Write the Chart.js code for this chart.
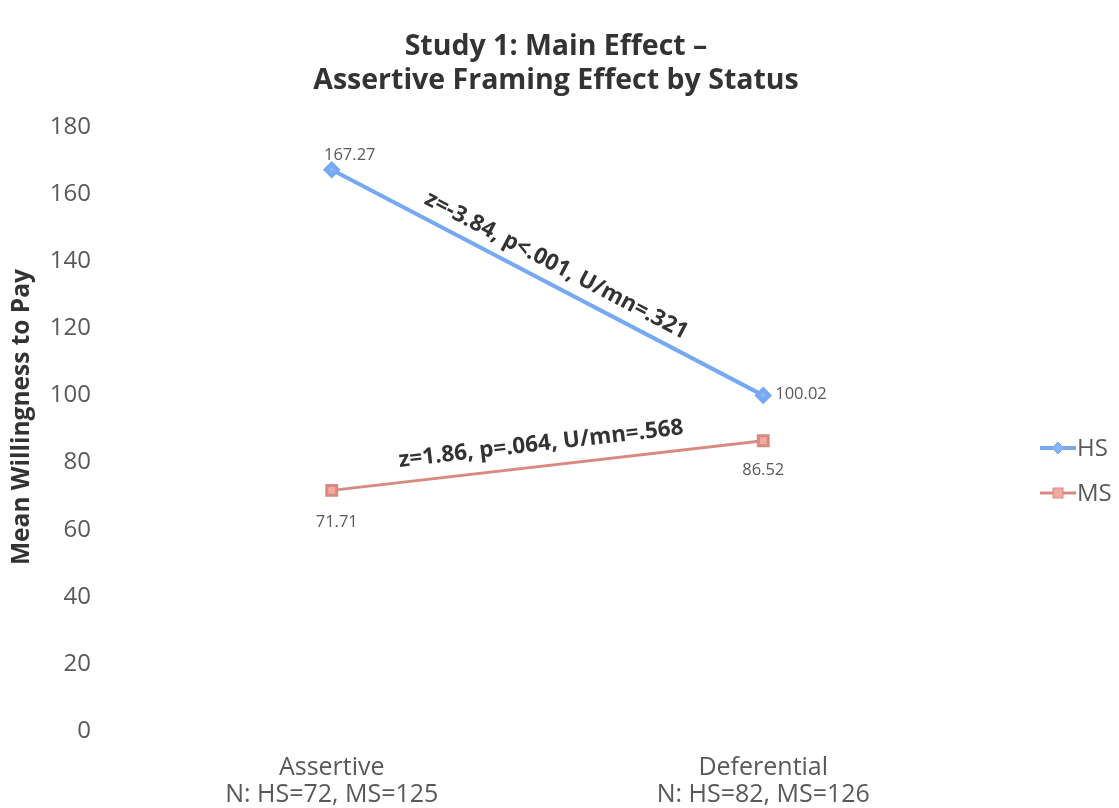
<!DOCTYPE html>
<html>
<head>
<meta charset="utf-8">
<script src="https://cdn.jsdelivr.net/npm/chart.js@4.4.0/dist/chart.umd.min.js"></script>
<style>
  html, body { margin: 0; padding: 0; background: #fff; }
  #wrap { width: 1119px; height: 808px; }
</style>
</head>
<body>
<div id="wrap"><canvas id="wtpChart" width="1119" height="808"></canvas></div>
<script>
// Data
const conditions = [
    ['Assertive', 'N: HS=72, MS=125'],
    ['Deferential', 'N: HS=82, MS=126']
];
const hsValues = [167.27, 100.02];
const msValues = [71.71, 86.52];
const seriesNames = ['HS', 'MS'];
const statNotes = ['z=-3.84, p<.001, U/mn=.321', 'z=1.86, p=.064, U/mn=.568'];
const titleLines = ['Study 1: Main Effect \u2013', 'Assertive Framing Effect by Status'];
const yAxisTitle = 'Mean Willingness to Pay';
const yTicks = [0, 20, 40, 60, 80, 100, 120, 140, 160, 180];

const FONT = "'Open Sans', 'Liberation Sans', sans-serif";
const TEXT_GREY = '#595959';
const HS_LINE = '#76a8f4';
const MS_LINE = '#d98a80';
const MS_FILL = '#f2aaa0';

// value labels next to each point (dx, dy from the point, alignment)
const labelPlacement = [
    [{ dx: 18, dy: -14, align: 'center' }, { dx: 12, dy: -1, align: 'left' }],
    [{ dx: 5, dy: 32, align: 'center' }, { dx: 0, dy: 30, align: 'center' }]
];

// title + y axis title drawn by hand so they sit where the original has them
const pageTitles = {
    id: 'pageTitles',
    afterDraw(chart) {
        const ctx = chart.ctx;
        ctx.save();
        ctx.font = 'bold 28.5px ' + FONT;
        ctx.fillStyle = '#333';
        ctx.textAlign = 'center';
        ctx.textBaseline = 'middle';
        ctx.fillText(titleLines[0], 556, 47);
        ctx.fillText(titleLines[1], 556, 81);

        ctx.font = 'bold 24.5px ' + FONT;
        ctx.translate(22, 417);
        ctx.rotate(-Math.PI / 2);
        ctx.fillText(yAxisTitle, 0, 0);
        ctx.restore();
    }
};

const pointLabels = {
    id: 'pointLabels',
    afterDatasetsDraw(chart) {
        const ctx = chart.ctx;
        ctx.save();
        ctx.font = '16.5px ' + FONT;
        ctx.fillStyle = TEXT_GREY;
        ctx.textBaseline = 'middle';
        chart.data.datasets.forEach((ds, i) => {
            const meta = chart.getDatasetMeta(i);
            meta.data.forEach((pt, j) => {
                const p = labelPlacement[i][j];
                ctx.textAlign = p.align;
                ctx.fillText(ds.data[j].toFixed(2), pt.x + p.dx, pt.y + p.dy);
            });
        });
        ctx.restore();
    }
};

// the test statistics written along each line
const lineNotes = {
    id: 'lineNotes',
    afterDatasetsDraw(chart) {
        const ctx = chart.ctx;
        const offsets = [19, 22];
        const shifts = [0, -4];
        ctx.save();
        ctx.font = 'bold 22.5px ' + FONT;
        ctx.fillStyle = '#333';
        ctx.textAlign = 'center';
        ctx.textBaseline = 'middle';
        chart.data.datasets.forEach((ds, i) => {
            const pts = chart.getDatasetMeta(i).data;
            const a = pts[0], b = pts[1];
            const ang = Math.atan2(b.y - a.y, b.x - a.x);
            const mx = (a.x + b.x) / 2, my = (a.y + b.y) / 2;
            ctx.save();
            ctx.translate(mx, my);
            ctx.rotate(ang);
            ctx.fillText(statNotes[i], shifts[i], -offsets[i]);
            ctx.restore();
        });
        ctx.restore();
    }
};

// legend drawn on the right like the original
const sideLegend = {
    id: 'sideLegend',
    afterDraw(chart) {
        const ctx = chart.ctx;
        const x0 = 1040;
        const rows = [448, 493];
        ctx.save();
        chart.data.datasets.forEach((ds, i) => {
            const y = rows[i];
            ctx.strokeStyle = ds.borderColor;
            ctx.lineWidth = ds.borderWidth;
            ctx.beginPath();
            ctx.moveTo(x0, y);
            ctx.lineTo(x0 + 36, y);
            ctx.stroke();
            ctx.fillStyle = ds.pointBackgroundColor;
            ctx.strokeStyle = ds.pointBorderColor;
            ctx.lineWidth = 1;
            const cx = x0 + 18;
            if (ds.pointStyle === 'rectRot') {
                ctx.beginPath();
                ctx.moveTo(cx, y - 6); ctx.lineTo(cx + 6, y);
                ctx.lineTo(cx, y + 6); ctx.lineTo(cx - 6, y);
                ctx.closePath();
                ctx.fill(); ctx.stroke();
            } else {
                ctx.fillRect(cx - 5, y - 5, 10, 10);
                ctx.strokeRect(cx - 5, y - 5, 10, 10);
            }
            ctx.fillStyle = TEXT_GREY;
            ctx.font = '24px ' + FONT;
            ctx.textAlign = 'left';
            ctx.textBaseline = 'middle';
            ctx.fillText(seriesNames[i], x0 + 37, y + 1);
        });
        ctx.restore();
    }
};

new Chart(document.getElementById('wtpChart'), {
    type: 'line',
    data: {
        labels: conditions,
        datasets: [
            {
                label: seriesNames[0],
                data: hsValues,
                borderColor: HS_LINE,
                borderWidth: 4,
                pointStyle: 'rectRot',
                pointRadius: 6,
                pointBackgroundColor: '#86b5f7',
                pointBorderColor: HS_LINE,
                tension: 0
            },
            {
                label: seriesNames[1],
                data: msValues,
                borderColor: MS_LINE,
                borderWidth: 3,
                pointStyle: 'rect',
                pointRadius: 7,
                pointBackgroundColor: MS_FILL,
                pointBorderColor: MS_LINE,
                tension: 0
            }
        ]
    },
    options: {
        responsive: false,
        animation: false,
        layout: { padding: { left: 0, right: 140, top: 127, bottom: 0 } },
        plugins: {
            legend: { display: false },
            tooltip: { enabled: false },
            title: { display: false }
        },
        scales: {
            x: {
                offset: true,
                grid: { display: false },
                border: { display: false },
                afterFit(axis) { axis.height = 77; },
                ticks: {
                    color: TEXT_GREY,
                    font: { family: FONT, size: 25, lineHeight: 1.08 },
                    padding: 15
                }
            },
            y: {
                min: 0,
                max: 180,
                afterBuildTicks(axis) {
                    axis.ticks = yTicks.map(v => ({ value: v }));
                },
                afterFit(axis) { axis.width = 116; },
                grid: { display: false },
                border: { display: false },
                ticks: {
                    color: TEXT_GREY,
                    font: { family: FONT, size: 24 },
                    padding: 17
                }
            }
        }
    },
    plugins: [pageTitles, pointLabels, lineNotes, sideLegend]
});
</script>
</body>
</html>
